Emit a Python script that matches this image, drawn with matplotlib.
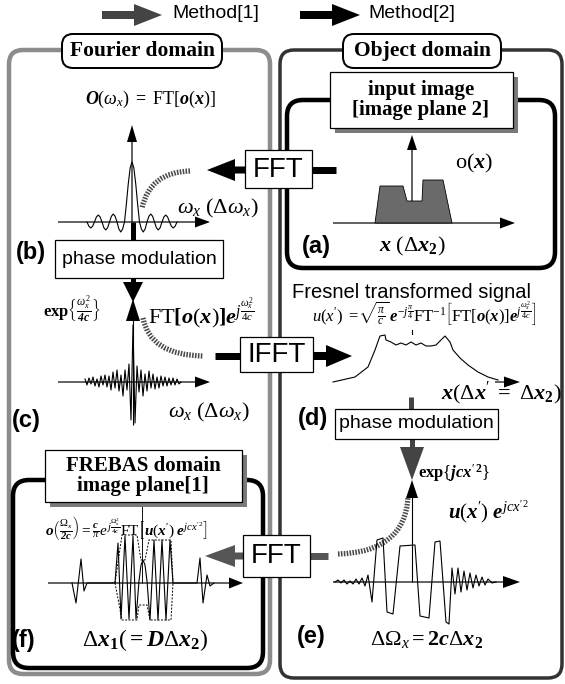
import numpy as np
import matplotlib.pyplot as plt
from matplotlib.patches import FancyBboxPatch, Rectangle, Polygon, FancyArrow, PathPatch
from matplotlib.path import Path

plt.rcParams['font.family'] = ['Liberation Sans', 'DejaVu Sans']
plt.rcParams['mathtext.fontset'] = 'custom'
plt.rcParams['mathtext.rm'] = 'Liberation Serif'
plt.rcParams['mathtext.it'] = 'Liberation Serif:italic'
plt.rcParams['mathtext.bf'] = 'Liberation Serif:bold'
plt.rcParams['mathtext.bfit'] = 'Liberation Serif:bold:italic'

# ---- signal data (offsets in px from each plot origin) ----
# (a) object o(x)
obj_x = [-37, -32, -9, -5, 10, 11, 31, 40]
obj_y = [0, 37, 37, 22, 22, 43, 43, 0]

# (b) spectrum, sinc-like, sampled every quarter lobe
sinc_u = np.arange(-6, 6.01, 0.25)
sinc_v = [0, -4.2, -6, -4.2, 0, 5, 7, 5, 0, -5.7, -8, -5.7, 0, 5.7, 8, 5.7,
          0, -7, -10, -7, 0, 18, 38, 54, 60, 54, 38, 18, 0, -7, -10, -7,
          0, 5.7, 8, 5.7, 0, -5.7, -8, -5.7, 0, 5, 7, 5, 0, -4.2, -6, -4.2, 0]

# (c) phase modulated spectrum
chirp_x = np.arange(-48, 49, 2)
chirp_v = [3, -3, 4, -2, 5, -4, 3, -5, 6, -3, 7, -5, 6, -8, 10, -6, 12, -9,
           7, -14, 12, -8, 18, -38, 57, -41, 16, -10, 12, -14, 8, -9, 11,
           -6, 8, -7, 5, -6, 6, -4, 5, -4, 4, -3, 4, -3, 3, -2, 0]

# (d) Fresnel transformed signal
fres_x = [-79, -57, -44, -37, -32, -27, -26, -21, -16, -11, -6, -1, 4, 9, 14,
          19, 24, 29, 33, 38, 41, 48, 56, 66, 76, 86]
fres_v = [0, 5, 15, 32, 46, 47, 42, 40, 37, 39, 37, 40, 37, 39, 36, 36, 37,
          42, 46, 40, 32, 24, 17, 10, 5, 2]

# (e) u(x') exp(jcx'^2)
mod_x = [-77, -74, -71, -68, -65, -62, -59, -56, -53, -50, -47, -44, -40, -35,
         -29, -25, -19, -12, 3, 8, 17, 23, 28, 34, 37, 40, 43, 46, 49, 52, 55,
         58, 61, 64, 67, 70, 73, 76, 80, 84]
mod_v = [0, 2, -1, 2, -2, 1, -2, 3, -2, 4, -4, 7, -20, 42, 44, -30, -32, 36,
         37, -34, -36, 40, 41, -40, -42, 14, -12, 14, -10, 11, -8, 9, -6, 7,
         -4, 5, -3, 3, -1, 0]

# (f) FREBAS signal and its dashed envelope
fre_x = [-70, -66, -61, -58, -55, -27, -24, -21, -17, -13, -9, -6, -3, -1, 1,
         3, 5, 8, 12, 16, 20, 24, 28, 31, 55, 58, 61, 65, 68, 72]
fre_v = [0, -20, 24, -8, 0, 0, 40, -36, 47, -36, 47, -36, 2, 18, 23, 18, 2,
         -37, 43, -37, 43, -37, 43, 0, 0, 25, -20, 8, -3, 0]
env_x = [-27, -20, -5, -1, 3, 7, 29, 31]
env_top = [0, 48, 48, 23, 23, 43, 43, 0]
env_bot_x = [-27, -20, -5, -3, 5, 8, 29, 31]
env_bot = [0, -37, -37, -22, -22, -37, -37, 0]

W, H = 565, 684
fig = plt.figure(figsize=(W / 100, H / 100), dpi=100)
ax = fig.add_axes([0, 0, 1, 1])
ax.set_xlim(0, W)
ax.set_ylim(H, 0)
ax.axis('off')


def pt(v):
    return v * 0.72


def sig_axes(ox, oy, hw, hh):
    a = fig.add_axes([(ox - hw) / W, 1 - (oy + hh) / H, 2 * hw / W, 2 * hh / H])
    a.set_xlim(-hw, hw)
    a.set_ylim(-hh, hh)
    a.axis('off')
    a.patch.set_alpha(0)
    return a


def arrow(x0, y0, x1, y1, w, hw, hl, color='k', z=4):
    ax.add_patch(FancyArrow(x0, y0, x1 - x0, y1 - y0, width=w, head_width=hw,
                            head_length=hl, length_includes_head=True,
                            fc=color, ec='none', zorder=z))


def bar(x0, y0, x1, y1, w, color='k'):
    ax.plot([x0, x1], [y0, y1], color=color, lw=pt(w), solid_capstyle='butt', zorder=4)


def rbox(x, y, w, h, r, ec, lw, fc='none', z=2):
    ax.add_patch(FancyBboxPatch((x, y), w, h, boxstyle=f'round,pad=0,rounding_size={r}',
                                fc=fc, ec=ec, lw=pt(lw), zorder=z))


def sbox(x, y, w, h, shadow=False, z=5):
    if shadow:
        ax.add_patch(Rectangle((x + 5, y + 5), w, h, fc='#7a7a7a', ec='none', zorder=z))
    ax.add_patch(Rectangle((x, y), w, h, fc='white', ec='k', lw=0.9, zorder=z + 0.1))


def hatched(p0, c, p1):
    path = Path([p0, c, p1], [Path.MOVETO, Path.CURVE3, Path.CURVE3])
    ax.add_patch(PathPatch(path, fc='none', ec='#4a4a4a', lw=3.8,
                           linestyle=(0, (0.3, 0.25)), zorder=3))


serif_b = dict(family='Liberation Serif', weight='bold')
lab = dict(fontsize=17, weight='bold', va='center')

# ---- legend ----
arrow(102, 15, 162, 15, 8, 22, 28, '#444444')
ax.text(172, 14, 'Method[1]', fontsize=14, va='center')
arrow(300, 15, 360, 15, 8, 22, 28, 'k')
ax.text(368, 14, 'Method[2]', fontsize=14, va='center')

# ---- domain panels ----
rbox(9, 50, 261, 624, 14, '#8c8c8c', 4.5)
rbox(280, 50, 282, 628, 14, '#333333', 3.5)
rbox(62, 34, 160, 34, 11, 'k', 2, 'white', 5)
ax.text(142, 51, 'Fourier domain', fontsize=15.5, ha='center', va='center', zorder=6, **serif_b)
rbox(343, 34, 158, 34, 11, 'k', 2, 'white', 5)
ax.text(422, 51, 'Object domain', fontsize=15.5, ha='center', va='center', zorder=6, **serif_b)

# ---- (a) input image ----
rbox(287, 100, 268, 168, 16, 'k', 4.5)
sbox(330, 72, 183, 56, shadow=True)
ax.text(421, 100, 'input image\n[image plane 2]', fontsize=15, ha='center', va='center',
        linespacing=1.05, zorder=6, **serif_b)
arrow(333, 223, 515, 223, 1.2, 11, 15)
arrow(412, 223, 412, 135, 1.2, 10, 15)
aa = sig_axes(412, 223, 60, 60)
aa.fill(obj_x, obj_y, fc='#6a6a6a', ec='k', lw=0.6)
ax.text(455, 163, r'$\mathrm{o}(\mathbfit{x})$', fontsize=16, va='center')
ax.text(302, 246, '(a)', **lab)
ax.text(412, 246, r'$\mathbfit{x}\ (\Delta\mathbfit{x}_\mathbf{2})$', fontsize=16,
        ha='center', va='center')

# ---- top FFT ----
sbox(245, 150, 67, 38)
ax.text(278.5, 170, 'FFT', fontsize=20, ha='center', va='center', zorder=6)
bar(312, 170, 336, 170, 7)
arrow(245, 170, 207, 170, 7, 22, 28)
hatched((190, 171), (150, 172), (142, 208))

# ---- (b) Fourier spectrum ----
ax.text(151, 99, r'$\mathbfit{O}(\omega_x)\ \mathbf{=}\ \mathrm{FT}[\mathbfit{o}(\mathbfit{x})]$',
        fontsize=13, ha='center', va='center')
arrow(58, 222, 210, 222, 1.2, 11, 15)
arrow(132, 222, 132, 125, 1.2, 10, 17)
ab = sig_axes(132, 222, 80, 100)
ab.plot(sinc_u * 7.5, sinc_v, color='k', lw=0.8)
ax.text(177, 208, r'$\omega_x\ (\Delta\omega_x)$', fontsize=16, va='center')
bar(133, 222, 133, 240, 5)
sbox(55, 240, 168, 38)
ax.text(139, 260, 'phase modulation', fontsize=14, ha='center', va='center', zorder=6)
ax.text(16, 252, '(b)', **lab)

# hourglass between (b) and (c)
bar(133, 278, 133, 283, 5)
ax.add_patch(Polygon([(123, 282), (143, 282), (133, 302)], fc='k', ec='none', zorder=4))
ax.add_patch(Polygon([(133, 299), (126, 321), (140, 321)], fc='k', ec='none', zorder=4))

# ---- (c) phase modulated spectrum ----
ax.text(43, 310, r'$\mathbf{exp}\left\{\frac{\omega_x^2}{\mathbfit{4c}}\right\}$',
        fontsize=12, va='center')
ax.text(148, 313, r'$\mathrm{FT}\mathbf{[}\mathbfit{o}(\mathbfit{x})\mathbf{]}\mathbfit{e}^{j\frac{\omega_x^2}{4c}}$',
        fontsize=16, va='center')
bar(133, 320, 133, 425, 1.1)
arrow(58, 382, 210, 382, 1.2, 11, 15)
ac = sig_axes(133, 382, 80, 80)
ac.plot(chirp_x, chirp_v, color='k', lw=0.8)
hatched((143, 318), (150, 355), (203, 356))
ax.text(168, 412, r'$\omega_x\ (\Delta\omega_x)$', fontsize=16, va='center')
ax.text(12, 420, '(c)', **lab)

# ---- IFFT ----
sbox(240, 337, 73, 35)
ax.text(276.5, 355, 'IFFT', fontsize=20, ha='center', va='center', zorder=6)
bar(215, 356, 240, 356, 7)
arrow(313, 356, 352, 356, 8, 22, 26)

# ---- (d) Fresnel transformed signal ----
ax.text(412, 292, 'Fresnel transformed signal', fontsize=14.5, ha='center', va='center')
ax.text(424, 314, r'$u(x^\prime)\ =\!\sqrt{\frac{\pi}{c}}\,\mathbfit{e}^{-j\frac{\pi}{4}}\mathrm{FT}^{-1}\left[\mathrm{FT}[\mathbfit{o}(\mathbfit{x})]\mathbfit{e}^{j\frac{\omega_x^2}{4c}}\right]$',
        fontsize=12, ha='center', va='center')
ad = sig_axes(412, 382, 90, 60)
ad.plot(fres_x, fres_v, color='k', lw=0.8)
ad.plot([0, 0], [48, 52], color='k', lw=0.8)
arrow(495, 382, 520, 382, 1.2, 11, 16)
ax.text(562, 393, r'$\mathbfit{x}(\Delta\mathbfit{x}^\prime\ \mathbf{=}\ \Delta\mathbfit{x}_\mathbf{2})$',
        fontsize=16, ha='right', va='center')
bar(411, 397, 411, 410, 5, '#444444')
sbox(335, 409, 163, 30)
ax.text(416.5, 424, 'phase modulation', fontsize=14, ha='center', va='center', zorder=6)
ax.text(298, 418, '(d)', **lab)

# ---- (e) ----
bar(412, 438, 412, 448, 5, '#444444')
ax.add_patch(Polygon([(400, 447), (424, 447), (412, 480)], fc='#444444', ec='none', zorder=4))
ax.add_patch(Polygon([(412, 480), (406, 498), (418, 498)], fc='k', ec='none', zorder=4))
bar(412, 497, 412, 582, 1.1)
ax.text(418, 473, r'$\mathbf{exp}\{\mathbfit{jcx}^{\prime\,\mathbf{2}}\}$', fontsize=12, va='center')
ax.text(448, 512, r'$\mathbfit{u}(\mathbfit{x}^\prime)\ \mathbfit{e}^{jcx^{\prime 2}}$',
        fontsize=15, va='center')
arrow(333, 582, 520, 582, 1.2, 12, 17)
ae = sig_axes(412, 582, 90, 60)
ae.plot(mod_x, mod_v, color='k', lw=0.8)
hatched((338, 554), (405, 552), (408, 497))
ax.text(297, 636, '(e)', **lab)
ax.text(370, 640, r'$\Delta\Omega_x\mathbf{=2}\mathbfit{c}\Delta\mathbfit{x}_\mathbf{2}$',
        fontsize=16, va='center')

# ---- bottom FFT ----
sbox(243, 535, 67, 42)
ax.text(276.5, 556, 'FFT', fontsize=20, ha='center', va='center', zorder=6)
bar(310, 556, 328, 556, 7, '#555555')
arrow(243, 556, 205, 556, 7, 22, 30, '#555555')

# ---- (f) FREBAS domain ----
rbox(13, 480, 250, 188, 16, 'k', 4.5)
sbox(45, 450, 197, 52, shadow=True)
ax.text(143, 476, 'FREBAS domain\nimage plane[1]', fontsize=15, ha='center', va='center',
        linespacing=1.05, zorder=6, **serif_b)
bar(142, 502, 142, 583, 0.9)
ax.text(45, 528, r'$\mathbfit{o}\left(\frac{\Omega_x}{\mathbfit{2c}}\right)=\frac{\mathbfit{c}}{\pi}e^{j\frac{\Omega_x^2}{4c}}\mathrm{FT}\left[\mathbfit{u}(\mathbfit{x}^\prime)\ \mathbfit{e}^{jcx^{\prime 2}}\right]$',
        fontsize=11, va='center', zorder=6)
arrow(48, 583, 243, 583, 1.2, 11, 14)
af = sig_axes(142, 583, 80, 60)
af.plot(fre_x, fre_v, color='k', lw=0.8)
af.plot(env_x, env_top, color='k', lw=0.7, ls=(0, (2, 1.5)))
af.plot(env_bot_x, env_bot, color='k', lw=0.7, ls=(0, (2, 1.5)))
ax.text(12, 640, '(f)', **lab)
ax.text(145, 640, r'$\Delta\mathbfit{x}_\mathbf{1}(\mathbf{=}\mathbfit{D}\Delta\mathbfit{x}_\mathbf{2})$',
        fontsize=17, ha='center', va='center')

fig.savefig('out.png', dpi=100)
